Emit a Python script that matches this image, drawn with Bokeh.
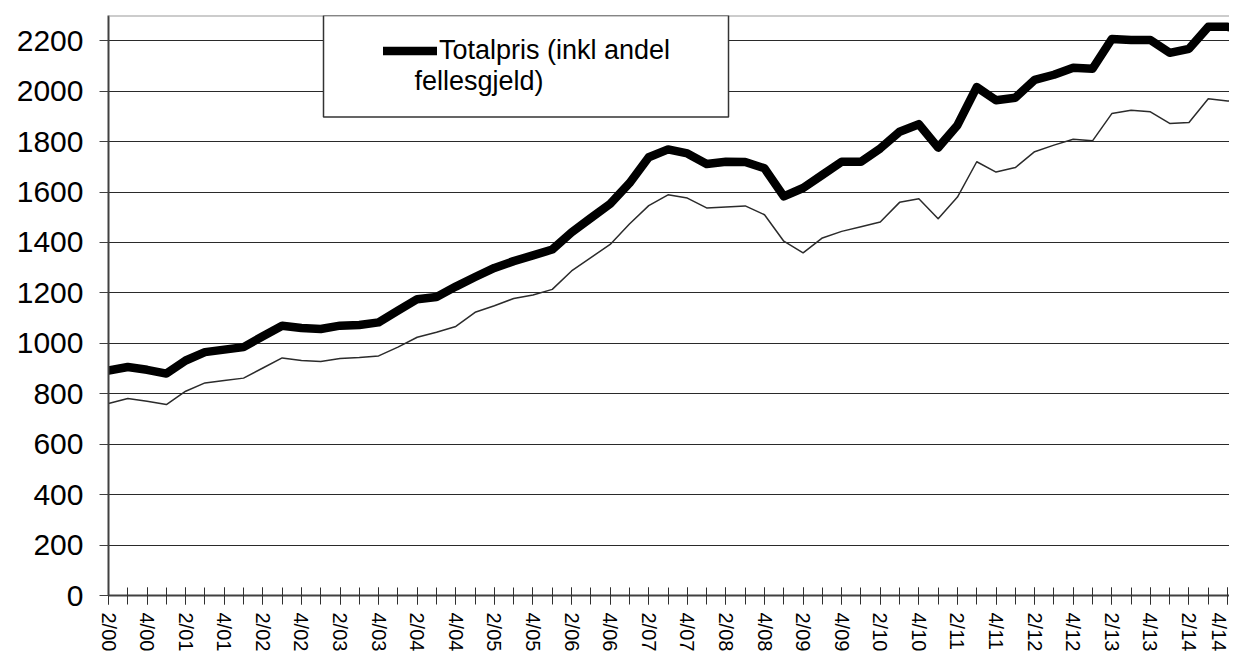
import math
from bokeh.plotting import figure
from bokeh.models import (FixedTicker, Range1d, Legend, LegendItem, BoxAnnotation,
                          Label, Span)
from bokeh.embed import file_html
from bokeh.resources import INLINE

# ---- data -------------------------------------------------------------
tick_labels = ["2/00", "4/00", "2/01", "4/01", "2/02", "4/02", "2/03", "4/03",
               "2/04", "4/04", "2/05", "4/05", "2/06", "4/06", "2/07", "4/07",
               "2/08", "4/08", "2/09", "4/09", "2/10", "4/10", "2/11", "4/11",
               "2/12", "4/12", "2/13", "4/13", "2/14", "4/14"]

totalpris = [892, 906, 895, 880, 932, 965, 975, 985, 1028, 1070,
             1061, 1057, 1070, 1073, 1083, 1130, 1175, 1184, 1225, 1263,
             1299, 1326, 1349, 1372, 1440, 1497, 1553, 1635, 1738, 1769,
             1753, 1711, 1720, 1719, 1694, 1583, 1616, 1668, 1720, 1720,
             1773, 1839, 1869, 1776, 1865, 2016, 1964, 1974, 2045, 2065,
             2093, 2089, 2207, 2203, 2203, 2152, 2168, 2255, 2255, 2237]

pris_uten = [761, 781, 770, 757, 810, 843, 853, 862, 902, 942,
             932, 928, 940, 944, 950, 985, 1024, 1044, 1067, 1123,
             1149, 1178, 1192, 1214, 1287, 1340, 1392, 1473, 1546, 1589,
             1576, 1537, 1541, 1545, 1510, 1405, 1359, 1418, 1444, 1462,
             1481, 1559, 1573, 1494, 1580, 1720, 1679, 1697, 1760, 1786,
             1809, 1803, 1911, 1924, 1918, 1872, 1876, 1970, 1961, 1966]

legend_label_1 = "Totalpris (inkl andel"
legend_label_2 = "fellesgjeld)"

x = list(range(len(totalpris)))
FONT = "Liberation Sans"

# ---- figure -----------------------------------------------------------
p = figure(width=1229, height=654, output_backend="svg", toolbar_location=None,
           x_range=Range1d(0, 58.10), y_range=Range1d(0, 2300),
           min_border_left=108, min_border_right=0, min_border_top=15,
           min_border_bottom=56)
p.outline_line_color = None
p.background_fill_color = "white"
p.border_fill_color = "white"

# grid
p.xgrid.grid_line_color = None
p.ygrid.grid_line_color = "#2a2a2a"
p.ygrid.grid_line_width = 1

# y axis
p.yaxis.ticker = FixedTicker(ticks=list(range(0, 2201, 200)))
p.yaxis.major_tick_out = 9
p.yaxis.major_tick_in = 0
p.yaxis.minor_tick_out = 0
p.yaxis.minor_tick_in = 0
p.yaxis.major_label_text_font = FONT
p.yaxis.major_label_text_font_size = "30px"
p.yaxis.major_label_text_color = "black"
p.yaxis.major_label_standoff = 16
p.yaxis.axis_line_width = 2
p.yaxis.axis_line_color = "#404040"
p.yaxis.major_tick_line_color = "#404040"

# x axis
major_idx = list(range(0, 2 * len(tick_labels), 2))
p.xaxis.ticker = FixedTicker(ticks=major_idx, minor_ticks=list(range(0, 60)))
p.xaxis.major_label_overrides = {i: lab for i, lab in zip(major_idx, tick_labels)}
p.xaxis.major_label_orientation = -math.pi / 2
p.xaxis.major_tick_out = 9
p.xaxis.major_tick_in = 8
p.xaxis.minor_tick_out = 9
p.xaxis.minor_tick_in = 8
p.xaxis.major_tick_line_color = "#303030"
p.xaxis.minor_tick_line_color = "#303030"
p.xaxis.minor_tick_line_width = 1
p.xaxis.major_label_text_font = FONT
p.xaxis.major_label_text_font_size = "20px"
p.xaxis.major_label_text_color = "black"
p.xaxis.major_label_standoff = 8
p.xaxis.axis_line_width = 2
p.xaxis.axis_line_color = "#404040"

# top border of plot area
p.add_layout(Span(location=2300, dimension="width", line_color="#9a9a9a", line_width=2))

# ---- lines ------------------------------------------------------------
p.line(x, pris_uten, line_color="#2b2b2b", line_width=1.5, line_join="round")
thick = p.line(x, totalpris, line_color="black", line_width=8.5,
               line_join="round", line_cap="round")

# ---- legend -----------------------------------------------------------
box = BoxAnnotation(left=(323 - 108) / 19.294, right=(728 - 108) / 19.294,
                    top=2300, bottom=(598 - 117) / 0.25348,
                    fill_color="white", fill_alpha=1,
                    line_color="#333333", line_alpha=1, line_width=1.5,
                    level="annotation")
p.add_layout(box)

legend = Legend(items=[LegendItem(label=legend_label_1, renderers=[thick])],
                location=(275, 529), border_line_color=None,
                background_fill_alpha=0, padding=0, margin=0, spacing=0,
                glyph_width=54, glyph_height=31, label_height=31,
                label_standoff=2, label_text_font=FONT,
                label_text_font_size="27px", label_text_color="black")
p.add_layout(legend)

p.add_layout(Label(x=(414 - 108) / 19.294, y=(598 - 81) / 0.25348,
                   text=legend_label_2, text_baseline="middle",
                   text_font=FONT, text_font_size="27px", text_color="black"))

open("out.html", "w").write(file_html(p, INLINE))
